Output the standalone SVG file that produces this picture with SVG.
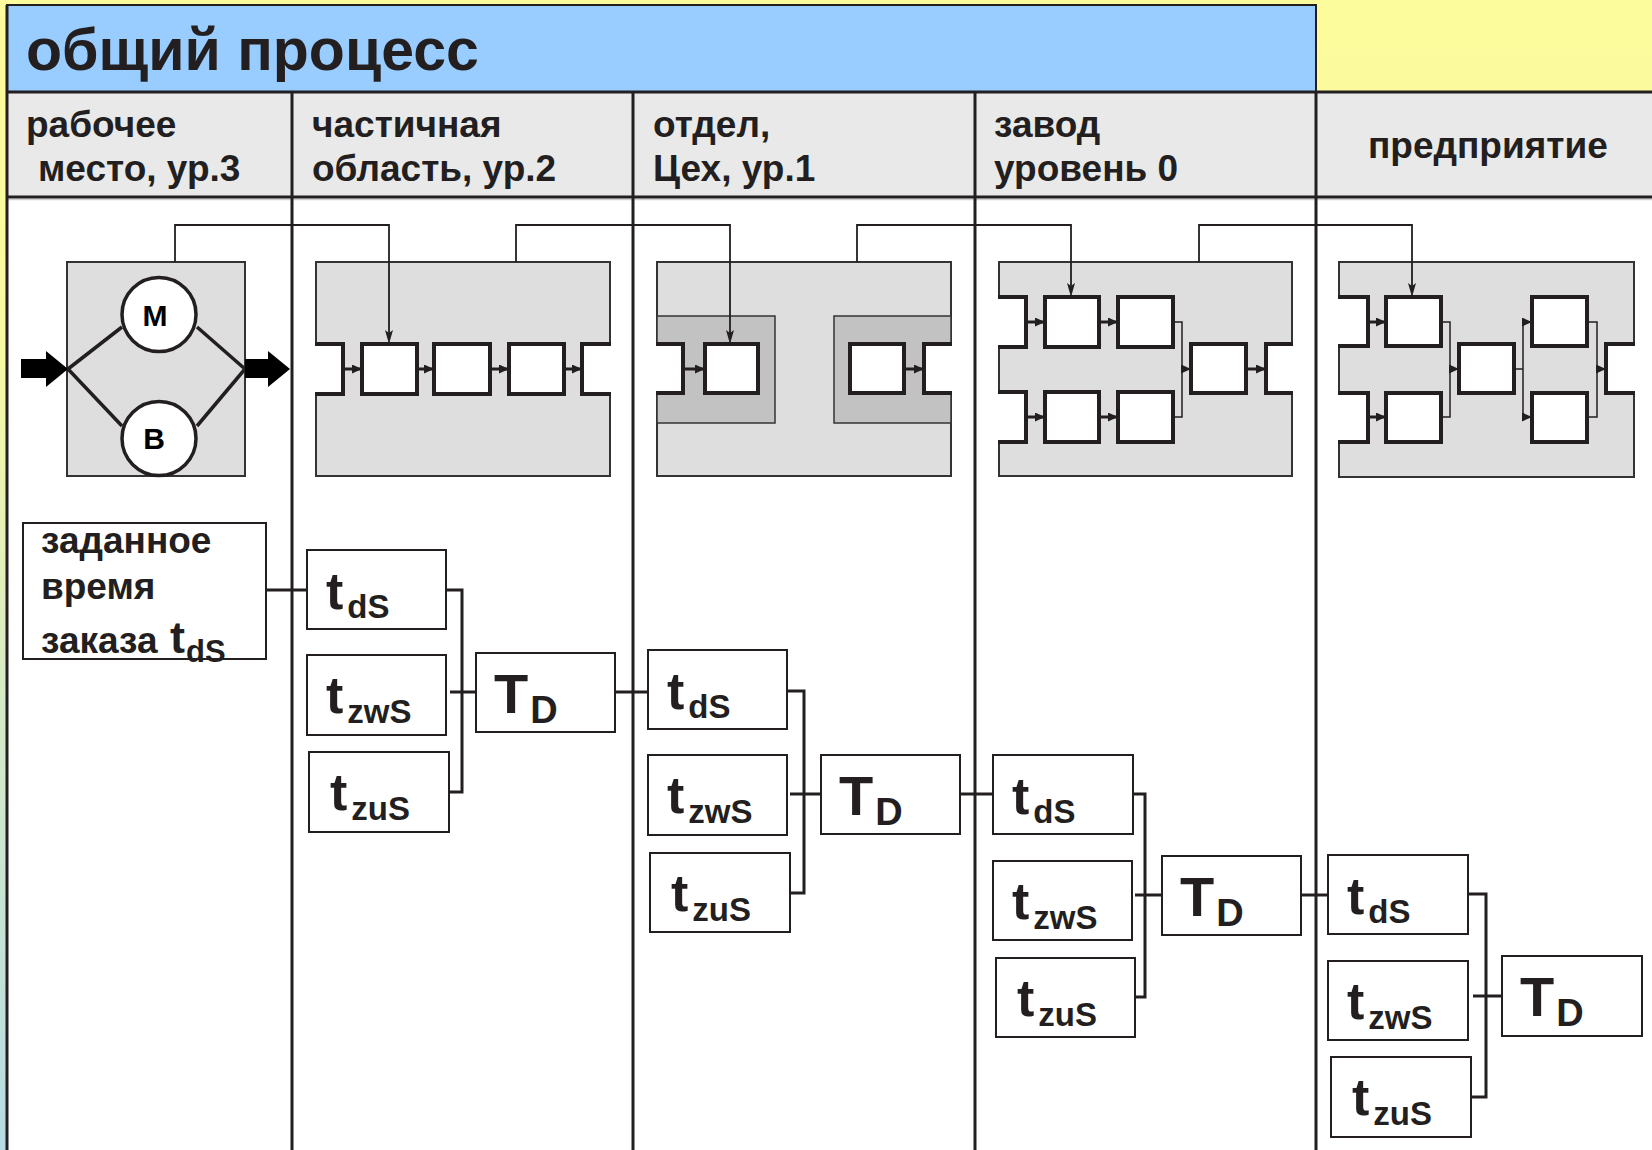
<svg xmlns="http://www.w3.org/2000/svg" width="1652" height="1150" viewBox="0 0 1652 1150">
  <defs>
    <linearGradient id="bg" x1="0" y1="0" x2="0" y2="1">
      <stop offset="0" stop-color="#fcfc9c"/>
      <stop offset="0.3" stop-color="#f8f9a2"/>
      <stop offset="0.6" stop-color="#d6ebc6"/>
      <stop offset="1" stop-color="#b6dbe3"/>
    </linearGradient>
    <marker id="tip" markerUnits="userSpaceOnUse" markerWidth="10" markerHeight="9" refX="9" refY="4.5" orient="auto">
      <path d="M0,0 L10,4.5 L0,9 z" fill="#231f20"/>
    </marker>
    <marker id="drop" markerUnits="userSpaceOnUse" markerWidth="10" markerHeight="14" refX="13" refY="4" orient="auto">
      <path d="M0,0 L14,4 L0,8 L3,4 z" fill="#231f20"/>
    </marker>
    <style>
      .rule { stroke:#231f20; stroke-width:3; fill:none; }
      .hdr { font-family:'Liberation Sans', Arial, sans-serif; font-weight:bold; font-size:37px; fill:#231f20; }
      .ttl { font-family:'Liberation Sans', Arial, sans-serif; font-weight:bold; font-size:59px; fill:#231f20; }
      .gbox { fill:#dedede; stroke:#333; stroke-width:2; }
      .dbox { fill:#c2c2c2; stroke:#333; stroke-width:1.5; }
      .pbox { fill:#fff; stroke:#231f20; stroke-width:4; }
      .pfill { fill:#fff; stroke:none; }
      .pedge { fill:none; stroke:#231f20; stroke-width:4; }
      .flow { stroke:#231f20; stroke-width:3; fill:none; marker-end:url(#tip); }
      .thin { stroke:#231f20; stroke-width:1.5; fill:none; }
      .feed { stroke:#231f20; stroke-width:1.8; fill:none; marker-end:url(#drop); }
      .circ { fill:#fff; stroke:#231f20; stroke-width:3.5; }
      .diag { stroke:#231f20; stroke-width:3.5; fill:none; }
      .big { fill:#000; }
      .lbl { font-family:'Liberation Sans', Arial, sans-serif; font-weight:bold; font-size:30px; fill:#000; text-anchor:middle; }
      .tbox { fill:#fff; stroke:#231f20; stroke-width:2; }
      .link { stroke:#231f20; stroke-width:3; fill:none; }
      .t { font-family:'Liberation Sans', Arial, sans-serif; font-weight:bold; font-size:52px; fill:#231f20; }
      .s { font-size:33px; }
      .T { font-family:'Liberation Sans', Arial, sans-serif; font-weight:bold; font-size:56px; fill:#231f20; }
      .d { font-size:38px; }
      .txt { font-family:'Liberation Sans', Arial, sans-serif; font-weight:bold; font-size:37px; fill:#231f20; }
    </style>
  </defs>

  <!-- page background -->
  <rect x="0" y="0" width="1652" height="1150" fill="url(#bg)"/>

  <!-- table frame -->
  <g id="table">
    <rect x="7" y="5" width="1309" height="87" fill="#99ccff" stroke="#231f20" stroke-width="2"/>
    <text class="ttl" x="26" y="70">общий процесс</text>
    <rect x="7" y="92" width="1645" height="105" fill="#e9e9e9"/>
    <rect x="7" y="197" width="1645" height="953" fill="#fff"/>
    <line x1="7" y1="199.5" x2="1652" y2="199.5" stroke="#cfcfcf" stroke-width="1.5"/>
    <path class="rule" d="M7,92 H1652 M7,197 H1652 M7,5 V1150 M292,92 V1150 M633,92 V1150 M975,92 V1150 M1316,92 V1150"/>
  </g>

  <!-- column headers -->
  <g id="headers">
    <text class="hdr" x="26" y="137">рабочее</text>
    <text class="hdr" x="38" y="181">место, ур.3</text>
    <text class="hdr" x="312" y="137">частичная</text>
    <text class="hdr" x="312" y="181">область, ур.2</text>
    <text class="hdr" x="653" y="137">отдел,</text>
    <text class="hdr" x="653" y="181">Цех, ур.1</text>
    <text class="hdr" x="994" y="137">завод</text>
    <text class="hdr" x="994" y="181">уровень 0</text>
    <text class="hdr" x="1368" y="158">предприятие</text>
  </g>

  <!-- level 3: workstation -->
  <g id="workstation">
    <rect class="gbox" x="67" y="262" width="178" height="214"/>
    <path class="diag" d="M68,369 L122,327 M197,327 L245,369 M68,369 L122,426 M197,426 L245,369"/>
    <circle class="circ" cx="159" cy="314.5" r="37"/>
    <circle class="circ" cx="159" cy="438.5" r="37"/>
    <text class="lbl" x="155" y="326">M</text>
    <text class="lbl" x="154" y="449">B</text>
    <path class="big" d="M21,359 H46 V351 L68,369 L46,387 V378 H21 z"/>
    <path class="big" d="M245,359 H268 V351 L290,369 L268,387 V378 H245 z"/>
  </g>

  <!-- level 2: sub-area line -->
  <g id="subarea">
    <rect class="gbox" x="316" y="262" width="294" height="214"/>
    <rect class="pfill" x="315" y="344" width="28" height="50"/>
    <path class="pedge" d="M315,344 H343 V394 H315"/>
    <rect class="pbox" x="362" y="344" width="55" height="50"/>
    <rect class="pbox" x="434" y="344" width="56" height="50"/>
    <rect class="pbox" x="509" y="344" width="55" height="50"/>
    <rect class="pfill" x="582" y="344" width="29" height="50"/>
    <path class="pedge" d="M611,344 H582 V394 H611"/>
    <line class="flow" x1="343" y1="369" x2="361" y2="369"/>
    <line class="flow" x1="417" y1="369" x2="433" y2="369"/>
    <line class="flow" x1="490" y1="369" x2="508" y2="369"/>
    <line class="flow" x1="564" y1="369" x2="581" y2="369"/>
  </g>

  <!-- level 1: department -->
  <g id="department">
    <rect class="gbox" x="657" y="262" width="294" height="214"/>
    <rect class="dbox" x="657" y="316" width="118" height="107"/>
    <rect class="dbox" x="834" y="316" width="117" height="107"/>
    <rect class="pfill" x="656" y="344" width="27" height="49"/>
    <path class="pedge" d="M656,344 H683 V393 H656"/>
    <rect class="pbox" x="705" y="344" width="53" height="49"/>
    <rect class="pbox" x="850" y="344" width="54" height="49"/>
    <rect class="pfill" x="924" y="344" width="28" height="49"/>
    <path class="pedge" d="M952,344 H924 V393 H952"/>
    <line class="flow" x1="683" y1="369" x2="704" y2="369"/>
    <line class="flow" x1="904" y1="369" x2="923" y2="369"/>
  </g>

  <!-- level 0: plant -->
  <g id="plant">
    <rect class="gbox" x="999" y="262" width="293" height="214"/>
    <rect class="pfill" x="998" y="297" width="28" height="50"/>
    <path class="pedge" d="M998,297 H1026 V347 H998"/>
    <rect class="pbox" x="1045" y="297" width="54" height="50"/>
    <rect class="pbox" x="1118" y="297" width="55" height="50"/>
    <rect class="pfill" x="998" y="392" width="28" height="50"/>
    <path class="pedge" d="M998,392 H1026 V442 H998"/>
    <rect class="pbox" x="1045" y="392" width="54" height="50"/>
    <rect class="pbox" x="1118" y="392" width="55" height="50"/>
    <rect class="pbox" x="1191" y="344" width="55" height="49"/>
    <rect class="pfill" x="1266" y="344" width="27" height="49"/>
    <path class="pedge" d="M1293,344 H1266 V393 H1293"/>
    <line class="flow" x1="1026" y1="322" x2="1044" y2="322"/>
    <line class="flow" x1="1099" y1="322" x2="1117" y2="322"/>
    <line class="flow" x1="1026" y1="417" x2="1044" y2="417"/>
    <line class="flow" x1="1099" y1="417" x2="1117" y2="417"/>
    <path class="thin" d="M1173,322 H1182 V417 H1173"/>
    <line class="flow" x1="1182" y1="369" x2="1190" y2="369" style="stroke-width:1.5"/>
    <line class="flow" x1="1246" y1="369" x2="1265" y2="369"/>
  </g>

  <!-- enterprise -->
  <g id="enterprise">
    <rect class="gbox" x="1339" y="262" width="295" height="215"/>
    <rect class="pfill" x="1338" y="297" width="30" height="49"/>
    <path class="pedge" d="M1338,297 H1368 V346 H1338"/>
    <rect class="pbox" x="1386" y="297" width="55" height="49"/>
    <rect class="pfill" x="1338" y="393" width="30" height="49"/>
    <path class="pedge" d="M1338,393 H1368 V442 H1338"/>
    <rect class="pbox" x="1386" y="393" width="55" height="49"/>
    <rect class="pbox" x="1459" y="344" width="55" height="49"/>
    <rect class="pbox" x="1532" y="297" width="55" height="49"/>
    <rect class="pbox" x="1532" y="393" width="55" height="49"/>
    <rect class="pfill" x="1606" y="344" width="29" height="49"/>
    <path class="pedge" d="M1635,344 H1606 V393 H1635"/>
    <line class="flow" x1="1368" y1="322" x2="1385" y2="322"/>
    <line class="flow" x1="1368" y1="417" x2="1385" y2="417"/>
    <path class="thin" d="M1441,322 H1450 V417 H1441"/>
    <line class="flow" x1="1450" y1="369" x2="1458" y2="369" style="stroke-width:1.5"/>
    <path class="thin" d="M1514,369 H1523 M1523,322 V417"/>
    <line class="flow" x1="1523" y1="322" x2="1531" y2="322" style="stroke-width:1.5"/>
    <line class="flow" x1="1523" y1="417" x2="1531" y2="417" style="stroke-width:1.5"/>
    <path class="thin" d="M1587,322 H1597 V417 H1587"/>
    <line class="flow" x1="1597" y1="369" x2="1605" y2="369" style="stroke-width:1.5"/>
  </g>

  <!-- time nodes -->
  <g id="order-time">
    <rect class="tbox" x="23" y="523" width="243" height="136"/>
    <text class="txt" x="41" y="553">заданное</text>
    <text class="txt" x="41" y="599">время</text>
    <text class="txt" x="41" y="653">заказа <tspan x="170" font-size="45">t</tspan><tspan font-size="31" dx="1" dy="9">dS</tspan></text>
  </g>

  <g id="tds-2"><rect class="tbox" x="307" y="550" width="139" height="79"/><text class="t" x="326" y="609">t<tspan class="s" dx="4" dy="9">dS</tspan></text></g>
  <g id="tzws-2"><rect class="tbox" x="307" y="655" width="139" height="80"/><text class="t" x="326" y="713">t<tspan class="s" dx="4" dy="10">zwS</tspan></text></g>
  <g id="tzus-2"><rect class="tbox" x="309" y="752" width="140" height="80"/><text class="t" x="330" y="810">t<tspan class="s" dx="4" dy="10">zuS</tspan></text></g>
  <g id="td-2"><rect class="tbox" x="476" y="653" width="139" height="79"/><text class="T" x="494" y="713">T<tspan class="d" dx="2" dy="10">D</tspan></text></g>

  <g id="tds-1"><rect class="tbox" x="648" y="650" width="139" height="79"/><text class="t" x="667" y="709">t<tspan class="s" dx="4" dy="9">dS</tspan></text></g>
  <g id="tzws-1"><rect class="tbox" x="648" y="755" width="139" height="80"/><text class="t" x="667" y="813">t<tspan class="s" dx="4" dy="10">zwS</tspan></text></g>
  <g id="tzus-1"><rect class="tbox" x="650" y="853" width="140" height="79"/><text class="t" x="671" y="911">t<tspan class="s" dx="4" dy="10">zuS</tspan></text></g>
  <g id="td-1"><rect class="tbox" x="821" y="755" width="139" height="79"/><text class="T" x="839" y="815">T<tspan class="d" dx="2" dy="10">D</tspan></text></g>

  <g id="tds-0"><rect class="tbox" x="993" y="755" width="140" height="79"/><text class="t" x="1012" y="814">t<tspan class="s" dx="4" dy="9">dS</tspan></text></g>
  <g id="tzws-0"><rect class="tbox" x="993" y="861" width="139" height="79"/><text class="t" x="1012" y="919">t<tspan class="s" dx="4" dy="10">zwS</tspan></text></g>
  <g id="tzus-0"><rect class="tbox" x="996" y="958" width="139" height="79"/><text class="t" x="1017" y="1016">t<tspan class="s" dx="4" dy="10">zuS</tspan></text></g>
  <g id="td-0"><rect class="tbox" x="1162" y="856" width="139" height="79"/><text class="T" x="1180" y="916">T<tspan class="d" dx="2" dy="10">D</tspan></text></g>

  <g id="tds-e"><rect class="tbox" x="1328" y="855" width="140" height="79"/><text class="t" x="1347" y="914">t<tspan class="s" dx="4" dy="9">dS</tspan></text></g>
  <g id="tzws-e"><rect class="tbox" x="1328" y="961" width="140" height="79"/><text class="t" x="1347" y="1019">t<tspan class="s" dx="4" dy="10">zwS</tspan></text></g>
  <g id="tzus-e"><rect class="tbox" x="1331" y="1057" width="140" height="80"/><text class="t" x="1352" y="1115">t<tspan class="s" dx="4" dy="10">zuS</tspan></text></g>
  <g id="td-e"><rect class="tbox" x="1502" y="956" width="140" height="80"/><text class="T" x="1520" y="1016">T<tspan class="d" dx="2" dy="10">D</tspan></text></g>

  <!-- connectors -->
  <g id="connectors">
    <path class="feed" d="M175,262 V225 H389 V343"/>
    <path class="feed" d="M516,262 V225 H730 V343"/>
    <path class="feed" d="M857,262 V225 H1071 V296"/>
    <path class="feed" d="M1199,262 V225 H1412 V296"/>

    <path class="link" d="M266,590 H307"/>
    <path class="link" d="M446,590 H462 V792 H449 M450,692 H476"/>
    <path class="link" d="M615,692 H648"/>
    <path class="link" d="M787,691 H804 V893 H790 M790,794 H821"/>
    <path class="link" d="M960,794 H993"/>
    <path class="link" d="M1133,794 H1145 V997 H1135 M1135,895 H1162"/>
    <path class="link" d="M1301,895 H1328"/>
    <path class="link" d="M1468,894 H1486 V1097 H1471 M1473,996 H1502"/>
  </g>
</svg>
